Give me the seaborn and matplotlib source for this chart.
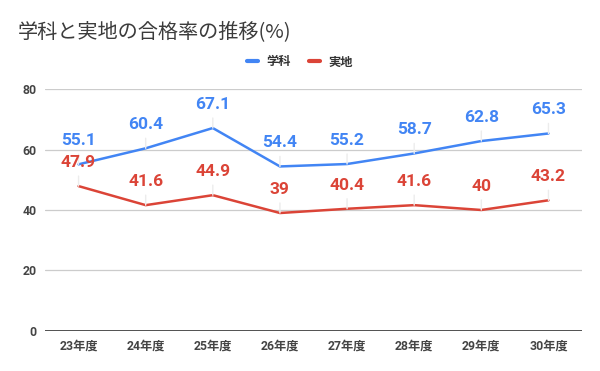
import matplotlib
matplotlib.use("Agg")
import matplotlib.pyplot as plt
import pandas as pd
import seaborn as sns

# Chart values
years = ["23年度", "24年度", "25年度", "26年度", "27年度", "28年度", "29年度", "30年度"]
gakka = [55.1, 60.4, 67.1, 54.4, 55.2, 58.7, 62.8, 65.3]
jicchi = [47.9, 41.6, 44.9, 39, 40.4, 41.6, 40, 43.2]
series_names = ["学科", "実地"]
y_ticks = [0, 20, 40, 60, 80]

colors = {"学科": "#4285F4", "実地": "#DB4437"}

sns.set_theme(style="white")
plt.rcParams["font.family"] = ["Roboto", "Noto Sans CJK JP", "DejaVu Sans"]

df = pd.DataFrame({"year": years * 2,
                   "value": gakka + jicchi,
                   "series": [series_names[0]] * len(years) + [series_names[1]] * len(years)})

fig = plt.figure(figsize=(6, 3.71), dpi=100)
ax = fig.add_axes([0.075, 0.108, 0.895, 0.652])

sns.lineplot(data=df, x="year", y="value", hue="series", palette=colors,
             sort=False, linewidth=1.8, ax=ax, legend=False, zorder=3)

ax.set_xlim(-0.5, len(years) - 0.5)
ax.set_ylim(0, 80)
ax.set_yticks(y_ticks)
for t in y_ticks[1:]:
    ax.axhline(t, color="#cccccc", linewidth=0.9, zorder=1)
ax.axhline(0, color="#333333", linewidth=1.2, zorder=2)
for s in ax.spines.values():
    s.set_visible(False)
ax.set_xlabel("")
ax.set_ylabel("")
ax.tick_params(axis="both", length=0, labelsize=8.8, labelcolor="#444444", pad=6)
for lab in ax.get_xticklabels() + ax.get_yticklabels():
    lab.set_fontweight("bold")

# data labels with leader lines
for name, vals in zip(series_names, [gakka, jicchi]):
    for i, v in enumerate(vals):
        ax.annotate(f"{v:g}", xy=(i, v), xytext=(0, 17), textcoords="offset points",
                    ha="center", va="center", fontsize=12.5, color=colors[name],
                    fontweight="semibold", zorder=5,
                    arrowprops=dict(arrowstyle="-", color="#ececec", lw=1,
                                    shrinkA=2, shrinkB=0))

# legend
handles = [plt.Line2D([], [], color=colors[n], linewidth=3) for n in series_names]
fig.legend(handles, series_names, loc="center", bbox_to_anchor=(0.5, 0.833), ncol=2,
           frameon=False, handlelength=0.9, handletextpad=0.7, columnspacing=1.5,
           prop={"family": ["Noto Sans CJK JP"], "size": 8.8, "weight": "bold"},
           labelcolor="#333333")

fig.text(0.03, 0.915, "学科と実地の合格率の推移(%)", fontsize=14.5, color="#3c3c3c",
         family=["Noto Sans CJK JP"], va="center", ha="left")

fig.savefig("out.png", dpi=100, facecolor="white")
